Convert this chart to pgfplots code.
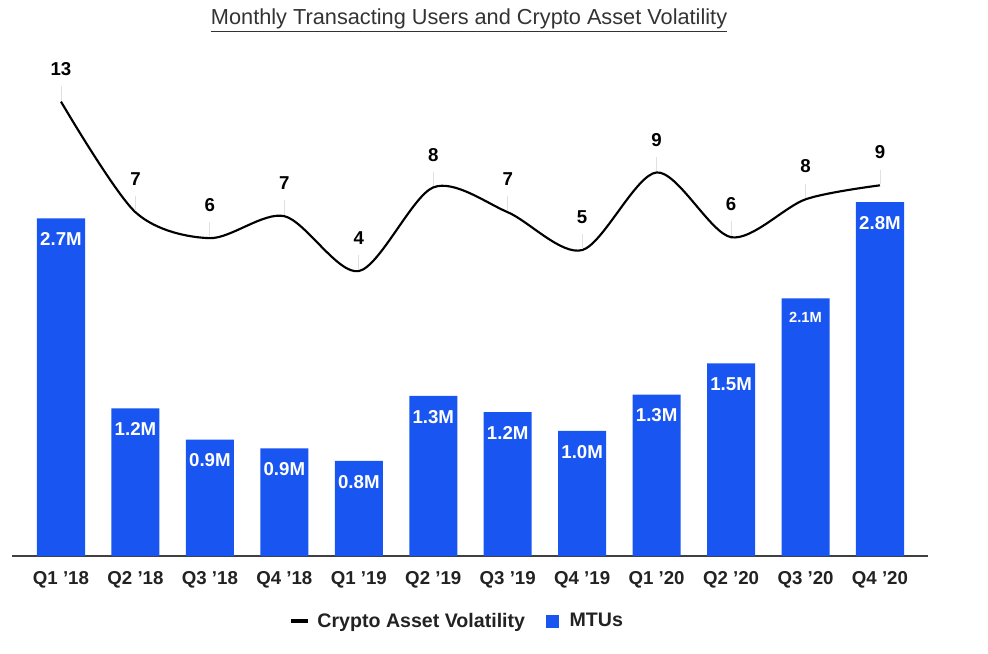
\documentclass[border=0pt]{standalone}
\usepackage{pgfplots}
\pgfplotsset{compat=1.18}
\usepackage{fontspec}
\setmainfont{Liberation Sans}
\definecolor{barblue}{HTML}{1955F0}
\definecolor{txt}{HTML}{222222}
\begin{document}
\begin{tikzpicture}
\useasboundingbox (-9pt,-72.75pt) rectangle (732pt,417pt);
\begin{axis}[
  at={(0pt,0pt)}, anchor=south west,
  scale only axis, width=687pt, height=372pt,
  xmin=-0.658, xmax=11.645, ymin=0, ymax=3.968,
  axis x line=bottom, axis y line=none,
  x axis line style={-, line width=1pt, draw=black!75},
  xtick={0,1,2,3,4,5,6,7,8,9,10,11},
  xticklabels={{Q1 '18},{Q2 '18},{Q3 '18},{Q4 '18},{Q1 '19},{Q2 '19},{Q3 '19},{Q4 '19},{Q1 '20},{Q2 '20},{Q3 '20},{Q4 '20}},
  xtick style={draw=none},
  xticklabel style={font=\bfseries\fontsize{14}{16}\selectfont, text=txt, yshift=-6pt},
  clip=false,
]
\addplot[ybar, bar width=0.645, fill=barblue, draw=none,
  nodes near coords, point meta=explicit symbolic,
  every node near coord/.append style={anchor=north, text=white, font=\bfseries\fontsize{14}{16}\selectfont, yshift=-7pt}]
coordinates {
(0,2.70) [2.7M]
(1,1.18) [1.2M]
(2,0.93) [0.9M]
(3,0.86) [0.9M]
(4,0.76) [0.8M]
(5,1.28) [1.3M]
(6,1.15) [1.2M]
(7,1.00) [1.0M]
(8,1.29) [1.3M]
(9,1.54) [1.5M]
(10,2.06) [{\fontsize{11}{13}\selectfont 2.1M}]
(11,2.83) [2.8M]
};
\end{axis}
\begin{axis}[
  at={(0pt,0pt)}, anchor=south west,
  scale only axis, width=687pt, height=372pt,
  xmin=-0.658, xmax=11.645, ymin=-11, ymax=15.2,
  axis lines=none, clip=false,
  legend style={draw=none, fill=none, at={(rel axis cs:0.486,-0.131)}, anchor=center,
    legend columns=2, font=\bfseries\fontsize{14.7}{17}\selectfont, text=txt,
    /tikz/every even column/.append style={column sep=14pt}},
]
\addplot[smooth, line width=1.6pt, black, mark=none,
  legend image code/.code={\draw[line width=3.5pt, black] (0pt,0pt) -- (12.75pt,0pt); \path (17pt,0pt);},
  nodes near coords={\pgfplotspointmeta\\[3pt]\textcolor{black!12}{\rule{0.7pt}{11pt}}},
  point meta=explicit symbolic,
  every node near coord/.append style={anchor=south, align=center, inner sep=0pt, font=\bfseries\fontsize{14}{16}\selectfont, text=black}]
coordinates {
(0,13) [13]
(1,7.16) [7]
(2,5.79) [6]
(3,6.95) [7]
(4,4.05) [4]
(5,8.47) [8]
(6,7.16) [7]
(7,5.16) [5]
(8,9.26) [9]
(9,5.84) [6]
(10,7.84) [8]
(11,8.58) [9]
};
\addlegendentry{Crypto Asset Volatility}
\addlegendimage{legend image code/.code={\fill[barblue] (0pt,-4.5pt) rectangle (9pt,4.5pt); \path (15pt,0pt);}}
\addlegendentry{MTUs}
\node[font=\fontsize{16.3}{19}\selectfont, text=black!80] at (rel axis cs:0.499,1.080) {\underline{Monthly Transacting Users and Crypto Asset Volatility}};
\end{axis}
\end{tikzpicture}
\end{document}
